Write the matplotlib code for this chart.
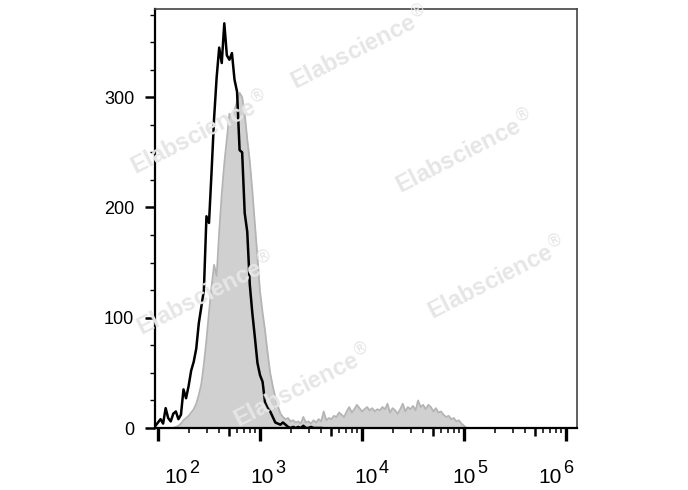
import numpy as np
from matplotlib import pyplot as plt

# histogram bins: log10 position of the first bin and bin width (decades)
bin_start = 1.975
bin_width = 0.025

# stained sample (grey filled), counts per bin
stained = [0, 0, 0, 0, 0, 0, 0, 0,
           1, 2, 4, 7, 9, 11, 14, 17, 22, 30,
           40, 58, 80, 105, 128, 148, 138, 178, 212, 240,
           262, 285, 282, 288, 296, 304, 300, 285, 262, 242,
           215, 185, 155, 124, 105, 88, 68, 50, 38, 28,
           20, 13, 10, 8, 9, 6, 7, 5, 6, 4,
           10, 5, 6, 4, 7, 5, 8, 6, 15, 7,
           9, 8, 11, 10, 14, 12, 10, 15, 19, 14,
           17, 21, 18, 15, 17, 19, 16, 18, 15, 17,
           16, 19, 17, 22, 14, 18, 16, 13, 17, 22,
           15, 19, 17, 20, 16, 25, 19, 21, 17, 21,
           19, 15, 18, 14, 15, 12, 10, 11, 8, 9,
           6, 7, 4, 2, 0]

# isotype control (black line), counts per bin
control = [2, 5, 8, 4, 18, 9, 6, 13, 15, 8,
           12, 35, 27, 38, 52, 60, 72, 95, 110, 125,
           192, 186, 232, 281, 318, 345, 331, 367, 338, 334,
           340, 316, 305, 252, 250, 195, 178, 130, 104, 82,
           59, 48, 42, 23, 18, 15, 10, 5, 4, 3,
           5, 3, 1, 0, 1, 0, 1, 0, 2, 0,
           0, 1, 0, 0, 0, 0]

y_ticks = [0, 100, 200, 300]
x_decades = [2, 3, 4, 5, 6]
# the cytometer software sets its decade labels a little off the ticks (pixels)
x_label_shift = [30, 14, 16, 12, -4]

# watermark centres in figure pixels (x, y from top)
marks = [(200, 133), (360, 48), (465, 152), (206, 294), (497, 278), (303, 386)]

plt.rcParams['font.family'] = ['Liberation Sans', 'DejaVu Sans']

fig = plt.figure(figsize=(6.88, 4.9), dpi=100)
ax = fig.add_axes([155/688, 62/490, 422/688, 419/490])

x_s = 10 ** (bin_start + bin_width * np.arange(len(stained)))
x_c = 10 ** (bin_start + bin_width * np.arange(len(control)))

ax.fill_between(x_s, stained, 0, color='#d0d0d0', lw=0, zorder=1)
ax.plot(x_s, stained, color='#b4b4b4', lw=1.3, zorder=2)

# watermarks
for (px, py) in marks:
    fig.text(px/688, 1 - py/490, 'Elabscience$^{\\circledR}$', fontsize=17,
             fontweight='bold', color='#e6e6e6', rotation=27,
             rotation_mode='anchor', ha='center', va='center', zorder=3)

ax.plot(x_c, control, color='black', lw=1.8, zorder=4)

ax.set_xscale('log')
ax.set_xticks([10 ** d for d in x_decades])
ax.set_xticklabels([])
minor = [m * 10 ** d for d in range(2, 7) for m in range(2, 10)]
ax.set_xticks(minor, minor=True)
ax.set_xticklabels([], minor=True)
ax.set_yticks(y_ticks)
ax.set_yticks(np.arange(0, 380, 25), minor=True)
ax.set_xlim(10 ** 1.9706, 10 ** 6.108)
ax.set_ylim(0, 380)

# decade labels: "10" plus a large superscript exponent
for d, dx in zip(x_decades, x_label_shift):
    ax.annotate('10', xy=(10 ** d, 0), xycoords=('data', 'axes fraction'),
                xytext=(dx, -55), textcoords='offset pixels',
                ha='right', va='baseline', fontsize=15, annotation_clip=False)
    ax.annotate(str(d), xy=(10 ** d, 0), xycoords=('data', 'axes fraction'),
                xytext=(dx + 1, -45), textcoords='offset pixels',
                ha='left', va='baseline', fontsize=13, annotation_clip=False)

ax.tick_params(axis='x', which='major', direction='out', length=9.5, width=2.4)
ax.tick_params(axis='x', which='minor', direction='out', length=3.6, width=1.1)
ax.tick_params(axis='y', which='major', direction='out', length=7, width=1.8,
               labelsize=13, pad=8)
ax.tick_params(axis='y', which='minor', direction='out', length=3.6, width=1)

# the 5x ticks are a bit longer and thicker
for t, v in zip(ax.xaxis.get_minor_ticks(len(minor)), minor):
    if round(v / 10 ** np.floor(np.log10(v))) == 5:
        t.tick1line.set_markersize(6)
        t.tick1line.set_markeredgewidth(1.8)

for s in ['left', 'bottom']:
    ax.spines[s].set_linewidth(1.6)
    ax.spines[s].set_color('black')
for s in ['top', 'right']:
    ax.spines[s].set_linewidth(1.2)
    ax.spines[s].set_color('#444444')

plt.savefig('out.png', dpi=100)
